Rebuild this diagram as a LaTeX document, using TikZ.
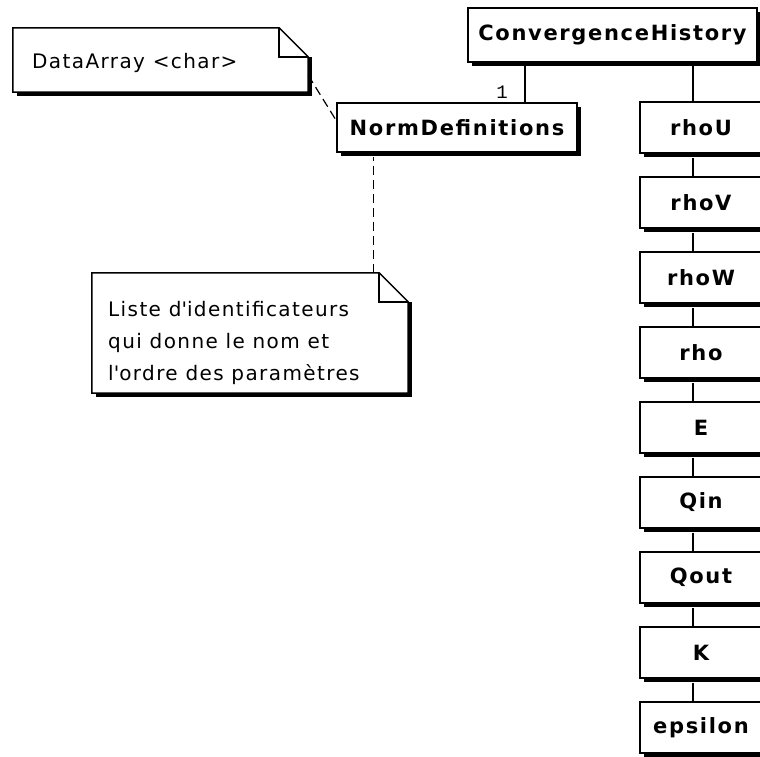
\documentclass[tikz,border=0pt]{standalone}
\usepackage{fontspec}
\setmainfont{DejaVu Sans}
\newfontfamily\classfont{DejaVu Sans}[LetterSpace=8]
\newfontfamily\notefont{DejaVu Sans}[LetterSpace=7]
\newfontfamily\labelfont{Liberation Mono}
\usetikzlibrary{shadows,calc}

% dog-eared note outline around a named (empty) node; #2 = fold size in pt
\newcommand\dognote[2]{%
  \fill[black] ([xshift=4pt,yshift=-#2pt]#1.north east) rectangle ([xshift=4pt,yshift=-4pt]#1.south west);
  \filldraw[fill=white, line width=1.5pt, line join=miter]
    (#1.north west) -- ([xshift=-#2pt]#1.north east) -- ([yshift=-#2pt]#1.north east)
    -- (#1.south east) -- (#1.south west) -- cycle;
  \draw[line width=1.5pt]
    ([xshift=-#2pt]#1.north east) -- ([xshift=-#2pt,yshift=-#2pt]#1.north east)
    -- ([yshift=-#2pt]#1.north east);
}

\begin{document}
\begin{tikzpicture}[x=1pt,y=-1pt,
  classbox/.style={draw, line width=1.6pt, fill=white, inner sep=0pt,
    minimum height=51pt,
    font=\classfont\fontsize{21}{24}\selectfont\bfseries,
    drop shadow={shadow xshift=4pt, shadow yshift=-4pt, fill=black, opacity=1}},
  attrbox/.style={classbox, minimum width=122pt},
  notearea/.style={inner sep=0pt},
  notetext/.style={inner sep=0pt, anchor=west, font=\notefont\fontsize{20}{32}\selectfont, align=left},
  assoc/.style={line width=1.3pt},
  notelink/.style={line width=1.2pt, dash pattern=on 9pt off 5pt},
  mult/.style={inner sep=0pt, font=\labelfont\fontsize{19}{19}\selectfont}
]
\useasboundingbox (0,0) rectangle (760,757);

% notes
\node[notearea, minimum width=295pt, minimum height=64pt] (da) at (160.5,60) {};
\dognote{da}{29}
\node[notetext] (datext) at (32,63) {DataArray <char>};

\node[notearea, minimum width=316pt, minimum height=120pt] (li) at (250,333) {};
\dognote{li}{29}
\node[notetext, anchor=north west] (litext) at (108,301)
  {Liste d\textquotesingle identificateurs\\qui donne le nom et\\l\textquotesingle ordre des paramètres};

% classes
\node[classbox, minimum width=289pt, minimum height=54pt] (ch) at (612.5,35) {ConvergenceHistory};
\node[classbox, minimum width=240pt, minimum height=49pt] (nd) at (457,127.5) {NormDefinitions};

\node[attrbox] (rhoU) at (701,127.5) {rhoU};
\node[attrbox] (rhoV) at (701,202.5) {rhoV};
\node[attrbox] (rhoW) at (701,277.5) {rhoW};
\node[attrbox] (rho)  at (701,352.5) {rho};
\node[attrbox] (E)    at (701,427.5) {E};
\node[attrbox] (Qin)  at (701,502.5) {Qin};
\node[attrbox] (Qout) at (701,577.5) {Qout};
\node[attrbox] (K)    at (701,652.5) {K};
\node[attrbox] (eps)  at (701,727.5) {epsilon};

% association lines
\coordinate (spine) at (693,0);
\coordinate (ndlink) at (525,0);
\draw[assoc] (ch.south -| ndlink) -- (nd.north -| ndlink);
\node[mult] (m1) at (502,92) {1};
\draw[assoc] (ch.south -| spine) -- (rhoU.north -| spine);
\foreach \a/\b in {rhoU/rhoV, rhoV/rhoW, rhoW/rho, rho/E, E/Qin, Qin/Qout, Qout/K, K/eps}
  \draw[assoc] ([yshift=-4pt]\a.south -| spine) -- (\b.north -| spine);

% note attachments
\draw[notelink] ([yshift=17pt]da.south east) -- ([yshift=7pt]nd.west);
\draw[notelink] ([xshift=-35pt]li.north east) -- ([xshift=-35pt,yshift=-4pt]li.north east |- nd.south);
\end{tikzpicture}
\end{document}
